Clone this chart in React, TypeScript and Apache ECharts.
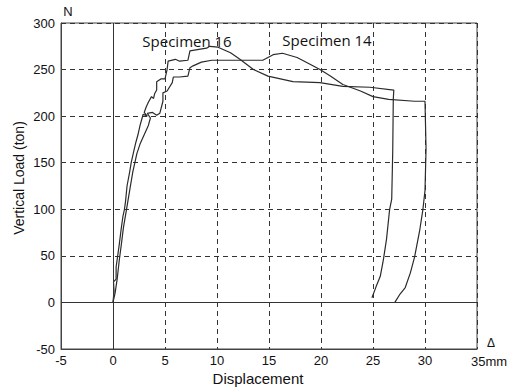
import React, { useEffect, useRef } from "react";
import * as echarts from "echarts";

const xTicks = [-5, 0, 5, 10, 15, 20, 25, 30, 35];
const yTicks = [-50, 0, 50, 100, 150, 200, 250, 300];

// Specimen 16: [displacement (mm), vertical load (ton)]
const specimen16: [number, number][] = [
  [0, 0], [0.1, 12], [0.05, 22], [0.3, 25], [0.3, 38], [0.45, 50], [0.6, 62], [0.8, 80],
  [0.95, 92], [1.1, 100], [1.2, 108], [1.35, 125], [1.6, 140], [1.75, 150], [1.95, 160],
  [2.2, 172], [2.4, 180], [2.6, 190], [2.8, 198], [2.9, 202], [3.3, 200], [3.0, 204],
  [3.2, 210], [3.4, 215], [3.7, 221], [3.9, 219], [4.0, 224], [4.2, 228], [4.2, 237],
  [4.6, 240], [5.0, 240], [5.2, 250], [5.3, 259], [6.0, 261], [6.4, 259], [7.2, 260],
  [7.4, 270], [8.4, 272], [9.0, 273], [9.3, 275], [10.1, 274], [11.3, 268], [12.2, 261],
  [13.5, 250], [14.9, 243], [17.3, 237], [19.9, 236], [22.1, 232], [24.7, 231],
  [27.0, 228], [26.95, 218], [26.9, 164], [26.8, 111], [26.6, 100], [26.3, 68],
  [26.0, 46], [25.7, 28], [25.3, 17], [24.9, 5]
];

// Specimen 14: [displacement (mm), vertical load (ton)]
const specimen14: [number, number][] = [
  [0, 0], [0.2, 10], [0.4, 25], [0.6, 45], [0.8, 62], [1.0, 80], [1.3, 100],
  [1.6, 120], [1.9, 140], [2.3, 160], [2.6, 170], [3.0, 180], [3.4, 190], [3.6, 198],
  [3.3, 203], [3.8, 204], [4.2, 201], [4.5, 203], [4.8, 216], [4.8, 225], [5.2, 227],
  [5.7, 236], [5.8, 242], [6.4, 242], [7.2, 243], [7.4, 252], [7.7, 254], [8.5, 258],
  [9.5, 260], [14.4, 260], [15.4, 266], [16.3, 267.5], [17.7, 263], [18.9, 256],
  [19.9, 250], [20.9, 243], [22.1, 234], [23.8, 227], [25.0, 221], [26.5, 218],
  [29.0, 216], [30.0, 216], [30.1, 165], [30.0, 120], [29.8, 100], [29.5, 78],
  [29.0, 49], [28.6, 32], [28.1, 16], [27.6, 9], [27.1, 0]
];

const seriesNames = ["Specimen 16", "Specimen 14"];

export default function App() {
  const ref = useRef<HTMLDivElement>(null);
  useEffect(() => {
    if (!ref.current) return;
    const chart = echarts.init(ref.current, undefined, { renderer: "svg" });
    const tickFont = "'Liberation Sans', Arial, sans-serif";
    const gridLine = { show: true, lineStyle: { color: "#333", type: [5, 4] as any, width: 1 } };
    const txt = (text: string, cx: number, cy: number, fontSize: number, fontFamily: string, rotation = 0) => ({
      type: "text",
      x: cx,
      y: cy,
      rotation,
      style: { text, fontSize, fontFamily, fill: "#111", align: "center", verticalAlign: "middle" },
    });
    chart.setOption({
      animation: false,
      backgroundColor: "#fff",
      grid: { left: 61, right: 32, top: 23, bottom: 38, show: true, borderColor: "#444", borderWidth: 1, containLabel: false },
      xAxis: {
        type: "value",
        min: xTicks[0],
        max: xTicks[xTicks.length - 1],
        interval: 5,
        axisLine: { show: true, onZero: false, lineStyle: { color: "#444" } },
        axisTick: { show: false },
        splitLine: gridLine,
        axisLabel: {
          margin: 5,
          color: "#111",
          fontSize: 13,
          fontFamily: tickFont,
          formatter: (v: number) => (v === 35 ? "" : String(v)),
        },
      },
      yAxis: {
        type: "value",
        min: yTicks[0],
        max: yTicks[yTicks.length - 1],
        interval: 50,
        axisLine: { show: true, onZero: false, lineStyle: { color: "#444" } },
        axisTick: { show: false },
        splitLine: gridLine,
        axisLabel: { margin: 6, color: "#111", fontSize: 13, fontFamily: tickFont },
      },
      series: [
        {
          name: seriesNames[0],
          type: "line",
          data: specimen16,
          showSymbol: false,
          lineStyle: { color: "#2b2b2b", width: 1.2 },
          markLine: {
            silent: true,
            symbol: "none",
            label: { show: false },
            lineStyle: { color: "#333", type: "solid", width: 1 },
            data: [{ xAxis: 0 }, { yAxis: 0 }],
          },
        },
        {
          name: seriesNames[1],
          type: "line",
          data: specimen14,
          showSymbol: false,
          lineStyle: { color: "#2b2b2b", width: 1.2 },
        },
      ],
      graphic: [
        txt(seriesNames[0], 187, 41, 15, "'Open Sans', sans-serif"),
        txt(seriesNames[1], 327, 40, 15, "'Open Sans', sans-serif"),
        txt("N", 68, 11, 13, tickFont),
        txt("Δ", 491, 343, 12, tickFont),
        txt("35mm", 489, 361, 13, tickFont),
        txt("Displacement", 258, 378, 15, tickFont),
        txt("Vertical Load (ton)", 19, 178, 14, tickFont, Math.PI / 2),
      ],
    });
    return () => chart.dispose();
  }, []);
  return <div ref={ref} style={{ position: "absolute", left: 0, top: 0, width: 509, height: 387 }} />;
}
